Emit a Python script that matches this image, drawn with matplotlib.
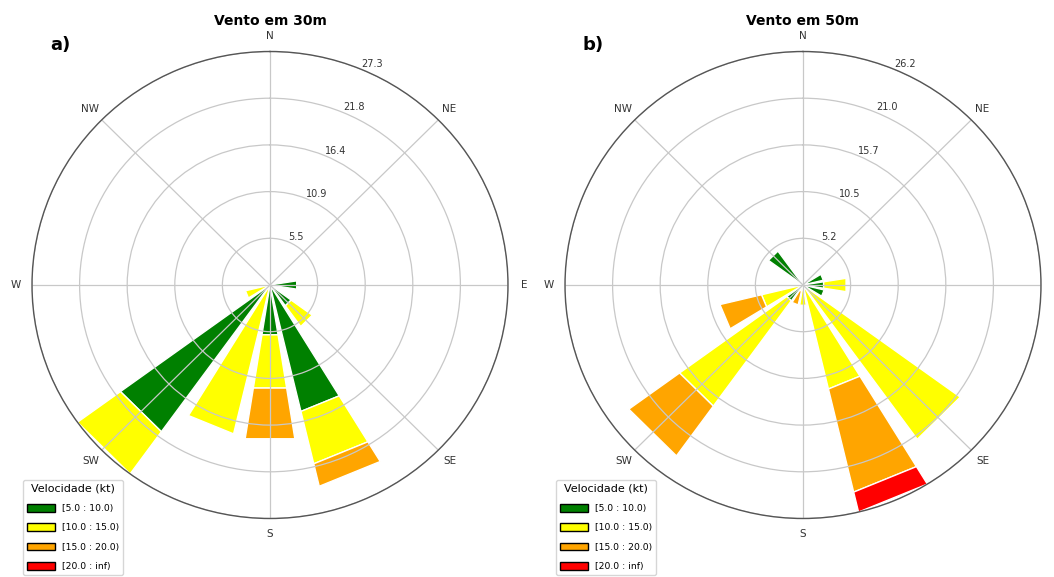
import numpy as np
import matplotlib
matplotlib.use("Agg")
import matplotlib.pyplot as plt
from matplotlib.patches import Rectangle, Patch

# 16 setores (N, NNE, NE, ..., NNW), valores em % por faixa de velocidade
setores = ['N', 'NNE', 'NE', 'ENE', 'E', 'ESE', 'SE', 'SSE',
           'S', 'SSW', 'SW', 'WSW', 'W', 'WNW', 'NW', 'NNW']
rotulos_dir = ['N', 'NE', 'E', 'SE', 'S', 'SW', 'W', 'NW']
faixas = ['[5.0 : 10.0)', '[10.0 : 15.0)', '[15.0 : 20.0)', '[20.0 : inf)']
cores = ['green', 'yellow', 'orange', 'red']

# vento em 30m
v30_5_10 = [0, 0, 0, 0, 3.1, 0, 3.0, 15.2, 5.9, 0, 21.2, 0, 0, 0, 0, 0]
v30_10_15 = [0, 0, 0, 0, 0, 0, 3.0, 6.3, 6.3, 17.9, 6.1, 2.9, 0, 0, 0, 0]
v30_15_20 = [0, 0, 0, 0, 0, 0, 0, 2.7, 6.0, 0, 0, 0, 0, 0, 0, 0]
v30_20_inf = [0] * 16

# vento em 50m
v50_5_10 = [0, 0, 0, 2.3, 2.3, 2.4, 0, 0, 0, 0, 2.2, 0, 0, 0, 4.7, 0]
v50_10_15 = [0, 0, 0, 0, 2.5, 0, 21.4, 12.0, 2.3, 0.7, 14.6, 4.7, 0, 0, 0, 0]
v50_15_20 = [0, 0, 0, 0, 0, 0, 0, 11.9, 0, 1.6, 6.9, 4.7, 0, 0, 0, 0]
v50_20_inf = [0, 0, 0, 0, 0, 0, 0, 2.3, 0, 0, 0, 0, 0, 0, 0, 0]


def rosa(ax, tabela, titulo, letra):
    tabela = np.array(tabela)
    ax.set_theta_zero_location('N')
    ax.set_theta_direction(-1)
    n = tabela.shape[1]
    dtheta = 2 * np.pi / n
    abertura = dtheta * 0.8
    angulos = np.arange(n) * dtheta
    for j in range(n):
        base = 0
        for i in range(tabela.shape[0]):
            v = tabela[i, j]
            if v > 0:
                ax.add_patch(Rectangle((angulos[j] - abertura / 2, base), abertura, v,
                                       facecolor=cores[i], edgecolor='white',
                                       lw=1, zorder=1))
            base += v
    rmax = tabela.sum(axis=0).max()
    ax.set_ylim(0, rmax)
    raios = np.linspace(0, rmax, 6)[1:]
    ax.set_rgrids(raios, ['%.1f' % r for r in raios], angle=22.5, fontsize=7, color='#333333')
    ax.set_thetagrids(np.arange(0, 360, 45), rotulos_dir, fontsize=7.5, color='#333333')
    ax.tick_params(axis='x', pad=1)
    ax.grid(color='#c8c8c8', lw=0.9)
    ax.spines['polar'].set_color('#555555')
    ax.spines['polar'].set_linewidth(1.0)
    ax.set_aspect('auto')
    ax.set_title(titulo, fontsize=10, fontweight='bold', pad=4)
    ax.text(0.059, 1.014, letra, transform=ax.transAxes, fontsize=13,
            fontweight='bold', ha='center', va='center')


fig = plt.figure(figsize=(10.54, 5.77), dpi=100)
W, H = 1054, 577

ax1 = fig.add_axes([(270 - 238) / W, (577 - 518.5) / H, 476 / W, 467 / H], projection='polar')
ax2 = fig.add_axes([(803 - 238) / W, (577 - 518.5) / H, 476 / W, 467 / H], projection='polar')

rosa(ax1, [v30_5_10, v30_10_15, v30_15_20, v30_20_inf], 'Vento em 30m', 'a)')
rosa(ax2, [v50_5_10, v50_10_15, v50_15_20, v50_20_inf], 'Vento em 50m', 'b)')

handles = [Patch(facecolor=c, edgecolor='black') for c in cores]
for ax, x0 in [(ax1, 23 / W), (ax2, 556 / W)]:
    ax.legend(handles, faixas, title='Velocidade (kt)', loc='lower left',
              bbox_to_anchor=(x0, 0.004), bbox_transform=fig.transFigure,
              fontsize=6.7, title_fontsize=8, handlelength=3.0, handleheight=0.9,
              labelspacing=1.1, borderaxespad=0)

fig.savefig('out.png', dpi=100)
